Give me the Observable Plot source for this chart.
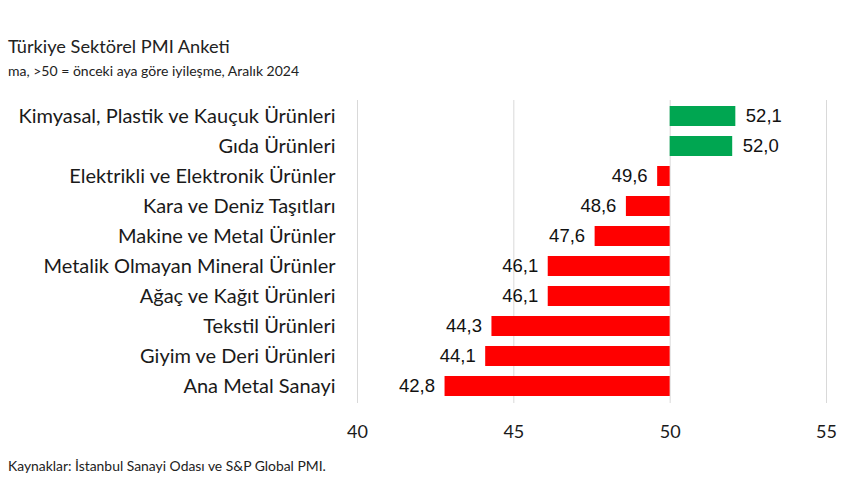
<!DOCTYPE html>
<html>
<head>
<meta charset="utf-8">
<script src="https://cdn.jsdelivr.net/npm/d3@7"></script>
<script src="https://cdn.jsdelivr.net/npm/@observablehq/plot@0.6"></script>
<style>
  body { margin: 0; background: #fff; width: 860px; height: 504px; overflow: hidden; font-family: Lato, "Open Sans", sans-serif; }
  #wrap { position: relative; width: 860px; height: 504px; }
  #title { position: absolute; left: 8px; top: 35px; font-size: 18.2px; color: #222; white-space: nowrap; }
  #subtitle { position: absolute; left: 8px; top: 62px; font-size: 14px; color: #222; white-space: nowrap; }
  #chart { position: absolute; left: 0; top: 95px; }
  #footer { position: absolute; left: 8px; top: 457px; font-size: 13.9px; color: #222; white-space: nowrap; }
</style>
</head>
<body>
<div id="wrap">
  <div id="title">Türkiye Sektörel PMI Anketi</div>
  <div id="subtitle">ma, &gt;50 = önceki aya göre iyileşme, Aralık 2024</div>
  <div id="chart"></div>
  <div id="footer">Kaynaklar: İstanbul Sanayi Odası ve S&amp;P Global PMI.</div>
</div>
<script>
const categories = [
  "Kimyasal, Plastik ve Kauçuk Ürünleri",
  "Gıda Ürünleri",
  "Elektrikli ve Elektronik Ürünler",
  "Kara ve Deniz Taşıtları",
  "Makine ve Metal Ürünler",
  "Metalik Olmayan Mineral Ürünler",
  "Ağaç ve Kağıt Ürünleri",
  "Tekstil Ürünleri",
  "Giyim ve Deri Ürünleri",
  "Ana Metal Sanayi"
];
const values = [52.1, 52.0, 49.6, 48.6, 47.6, 46.1, 46.1, 44.3, 44.1, 42.8];
const xTicks = [40, 45, 50, 55];
const baseline = 50;

const data = categories.map((c, i) => ({ sector: c, value: values[i] }));
const fmt = v => v.toFixed(1).replace(".", ",");

const chart = Plot.plot({
  width: 860,
  height: 353,
  marginLeft: 357,
  marginRight: 34,
  marginTop: 5,
  marginBottom: 45,
  style: { fontFamily: "Lato, 'Open Sans', sans-serif", background: "#fff", overflow: "visible" },
  x: { domain: [40, 55], ticks: xTicks, tickSize: 0, tickPadding: 22, label: null },
  y: { domain: categories, paddingInner: 0.33, paddingOuter: 0.165, tickSize: 0, tickPadding: 22, label: null },
  marks: [
    Plot.ruleX(xTicks, { stroke: "#d9d9d9", strokeWidth: 1 }),
    Plot.barX(data, {
      x1: baseline, x2: "value", y: "sector",
      fill: d => d.value >= baseline ? "#00a651" : "#ff0000"
    }),
    Plot.text(data.filter(d => d.value >= baseline), {
      x: "value", y: "sector", text: d => fmt(d.value),
      textAnchor: "start", dx: 10, fontSize: 18.5, fill: "#111",
      fontFamily: "'Liberation Sans', Arial, sans-serif"
    }),
    Plot.text(data.filter(d => d.value < baseline), {
      x: "value", y: "sector", text: d => fmt(d.value),
      textAnchor: "end", dx: -10, fontSize: 18.5, fill: "#111",
      fontFamily: "'Liberation Sans', Arial, sans-serif"
    }),
    Plot.axisY({ tickSize: 0, tickPadding: 22, fontSize: 20, color: "#1a1a1a" }),
    Plot.axisX({ ticks: xTicks, tickSize: 0, tickPadding: 22, fontSize: 18, color: "#1a1a1a" })
  ]
});
document.getElementById("chart").appendChild(chart);
</script>
</body>
</html>
